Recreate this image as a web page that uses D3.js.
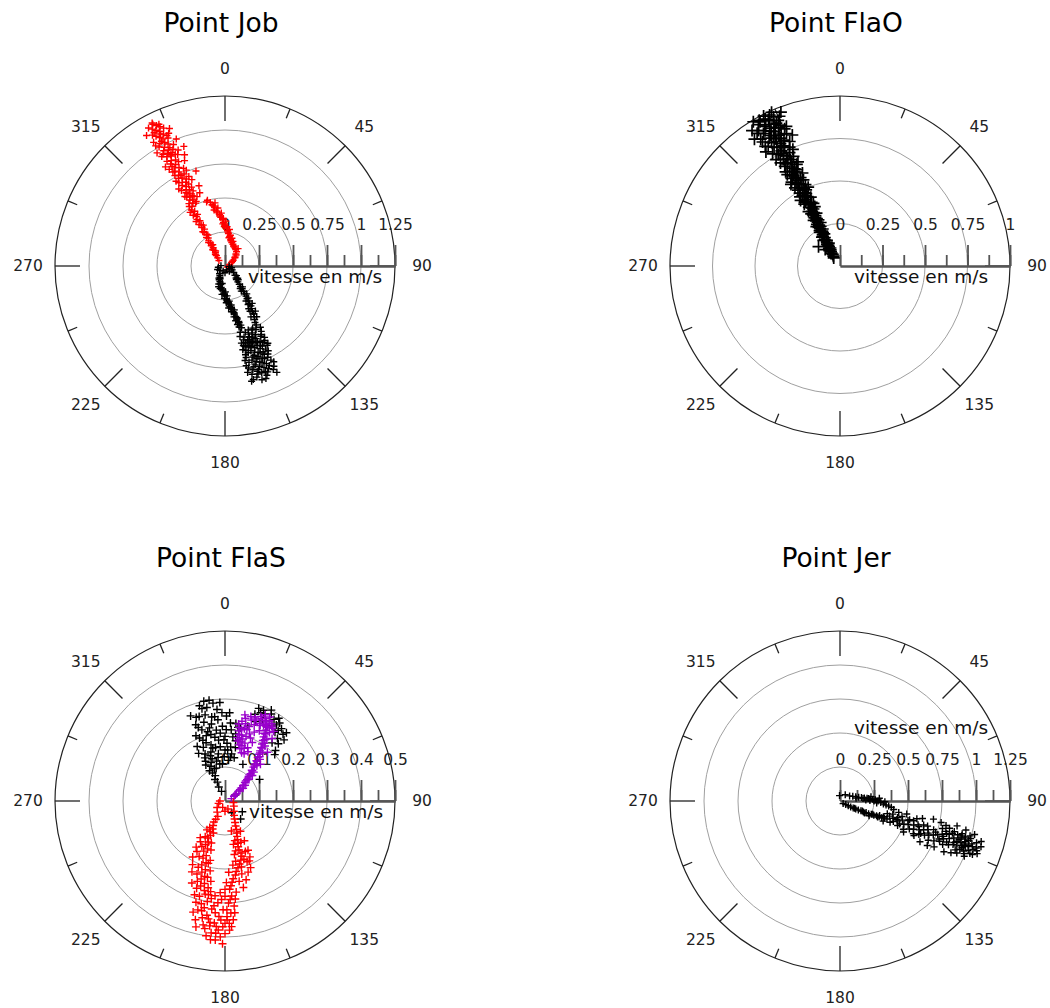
<!DOCTYPE html>
<html>
<head>
<meta charset="utf-8">
<script src="https://cdn.jsdelivr.net/npm/d3@7"></script>
<style>
  html, body { margin: 0; padding: 0; background: #fff; }
  svg { display: block; }
</style>
</head>
<body>
<svg id="chart" width="1050" height="1008"></svg>
<script>
// ---------------- DATA : [direction (deg, 0 = north, clockwise), speed (m/s)] ----------------
const titles = ["Point Job", "Point FlaO", "Point FlaS", "Point Jer"];
const angleTickLabels = [0, 45, 90, 135, 180, 225, 270, 315];
const speedLabelsJob  = [0, 0.25, 0.5, 0.75, 1, 1.25];
const speedLabelsFlaO = [0, 0.25, 0.5, 0.75, 1];
const speedLabelsFlaS = [0, 0.1, 0.2, 0.3, 0.4, 0.5];
const speedLabelsJer  = [0, 0.25, 0.5, 0.75, 1, 1.25];
const axisTitle = "vitesse en m/s";

const jobRed = [
  [333,1.18],[331,1.16],[334,1.15],[332,1.14],[335,1.13],[333,1.12],[336,1.11],[331,1.10],[334,1.10],[332,1.08],
  [335,1.07],[337,1.06],[333,1.06],[330,1.05],[334,1.04],[336,1.03],[332,1.02],[334,1.01],[331,1.00],[335,0.99],
  [333,0.98],[337,0.97],[332,0.96],[334,0.95],[336,0.94],[330,0.93],[333,0.93],[341,0.93],[335,0.92],[332,0.91],
  [334,0.90],[337,0.89],[331,0.88],[333,0.87],[335,0.86],[332,0.85],[336,0.84],[334,0.83],[330,0.82],[333,0.81],
  [335,0.80],[332,0.79],[337,0.78],[334,0.77],[331,0.76],[333,0.75],[336,0.74],[332,0.73],[334,0.72],[338,0.71],
  [331,0.70],[333,0.69],[335,0.68],[332,0.67],[336,0.66],[334,0.65],[330,0.64],[333,0.63],[335,0.62],[332,0.61],
  [337,0.60],[334,0.59],[331,0.58],[333,0.57],[341,0.57],[336,0.56],[332,0.55],[334,0.54],[330,0.53],[333,0.52],
  [335,0.51],[331,0.50],
  [329,1.12],[338,1.09],[330,1.02],[339,1.00],[329,0.97],[338,0.92],[331,0.94],[336,0.90],[329,0.85],[339,0.83],
  [331,0.79],[338,0.76],[330,0.72],[339,0.68],[329,0.66],[337,0.63],[330,0.59],[338,0.55],[329,0.51],[336,0.52],
  [333,1.17],[335,1.15],[332,1.11],[334,1.08],[336,1.05],[333,1.03],[335,0.96],[334,0.91],[332,0.83],[334,0.74],
  [336,0.70],[333,0.60],[335,0.57],[342,0.62],[340,0.87],[343,0.73],
  [329,0.48],[331,0.46],[328,0.44],[330,0.42],[329,0.40],[331,0.38],[328,0.36],[330,0.35],[329,0.33],[331,0.31],
  [328,0.29],[330,0.27],[327,0.25],[329,0.24],[327,0.22],[328,0.20],[326,0.18],[327,0.16],[325,0.14],[324,0.12],
  [321,0.10],[318,0.08],[312,0.06],
  [327,0.47],[332,0.43],[327,0.39],[332,0.34],[327,0.30],[331,0.26],[325,0.21],[330,0.18],[323,0.15],[328,0.13],[320,0.11],
  [345,0.50],[347,0.48],[348,0.46],[350,0.44],[349,0.42],[352,0.40],[354,0.38],[355,0.36],[357,0.34],[358,0.32],
  [0,0.30],[2,0.28],[4,0.26],[6,0.24],[9,0.22],[12,0.20],[16,0.18],[20,0.17],[26,0.155],[33,0.145],
  [39,0.135],[45,0.115],[50,0.095],[55,0.075],[62,0.055],[75,0.035],[110,0.02],
  [351,0.47],[353,0.43],[356,0.39],[358,0.35],[1,0.33],[3,0.29],[7,0.27],[10,0.23],[14,0.21],[18,0.19],[37,0.16],[42,0.12],
  [344,0.49],[349,0.45],[351,0.41],[354,0.37],[357,0.31],[359,0.29],[5,0.25],[8,0.21],[13,0.19],[23,0.16],[30,0.15],[48,0.10],[58,0.065]
];

const jobBlack = [
  [260,0.05],[245,0.06],[230,0.05],[215,0.07],[275,0.03],[200,0.04],[160,0.03],[120,0.04],[105,0.05],[95,0.03],[140,0.05],[180,0.05],
  [208,0.08],[204,0.09],[201,0.10],[198,0.12],[195,0.13],[193,0.14],[190,0.16],[187,0.17],[185,0.18],[183,0.20],
  [181,0.21],[180,0.22],[178,0.24],[177,0.25],[176,0.26],[175,0.27],[174,0.28],[173,0.30],[172,0.31],[171,0.32],
  [170,0.34],[169,0.35],[169,0.36],[168,0.38],[167,0.39],[167,0.40],[166,0.42],[166,0.43],[165,0.45],[165,0.47],
  [171,0.29],[168,0.33],[173,0.26],[176,0.22],[170,0.38],[168,0.44],[197,0.16],[186,0.21],[189,0.13],[179,0.19],
  [203,0.11],[192,0.17],[181,0.24],[178,0.27],[172,0.34],[169,0.41],[207,0.10],[199,0.14],[175,0.31],[167,0.46],
  [118,0.06],[127,0.08],[133,0.10],[137,0.12],[140,0.13],[141,0.15],[142,0.17],[143,0.19],[143,0.21],[144,0.23],
  [145,0.25],[145,0.27],[146,0.29],[146,0.31],[147,0.33],[147,0.35],[148,0.37],[149,0.39],[149,0.41],[150,0.43],
  [151,0.45],[152,0.47],[136,0.14],[146,0.20],[142,0.26],[149,0.30],[144,0.34],[151,0.36],[146,0.40],[153,0.42],
  [130,0.11],[147,0.22],[144,0.29],[149,0.33],[151,0.38],[148,0.44],[134,0.13],[140,0.20],
  [152,0.49],[156,0.50],[160,0.50],[163,0.51],[167,0.50],[154,0.52],[158,0.53],[161,0.53],[165,0.54],[151,0.55],
  [156,0.55],[159,0.56],[163,0.57],[166,0.56],[153,0.58],[157,0.58],[160,0.59],[164,0.59],[155,0.61],[158,0.61],
  [162,0.62],[166,0.61],[153,0.63],[156,0.64],[160,0.64],[163,0.65],[157,0.66],[161,0.67],[165,0.66],[154,0.68],
  [158,0.69],[162,0.69],[156,0.71],[160,0.71],[164,0.72],[158,0.73],[162,0.74],[155,0.74],[166,0.73],[159,0.76],
  [163,0.76],[157,0.78],[161,0.78],[165,0.79],[159,0.80],[163,0.81],[157,0.82],[161,0.83],[166,0.82],[155,0.84],
  [164,0.85],[159,0.86],[167,0.87],[162,0.88],[154,0.82],[168,0.71],[152,0.66],[160,0.60],[158,0.63],[162,0.57],
  [156,0.69],[160,0.75],[166,0.64],[164,0.62],
  [150,0.52],[168,0.53],[152,0.57],[168,0.58],[151,0.60],[167,0.60],[152,0.62],[168,0.63],[151,0.65],[167,0.67],
  [153,0.70],[167,0.69],[154,0.72],[168,0.75],[154,0.77],[167,0.77],[156,0.80],[168,0.80],[153,0.79],[158,0.84],
  [163,0.83],[160,0.88],[166,0.86],[154,0.87],[157,0.51],[161,0.55],[158,0.57],[155,0.65],[159,0.68],[163,0.70],
  [157,0.74],[161,0.72],[164,0.77],[162,0.80],[159,0.83],[161,0.59],[165,0.58],[157,0.61],[163,0.61]
];

const flaOBlack = [
  [322,0.06],[326,0.07],[324,0.09],[328,0.10],[327,0.12],[330,0.13],[329,0.15],[331,0.16],[330,0.18],[332,0.19],
  [331,0.21],[333,0.22],[330,0.24],[332,0.25],[334,0.26],[331,0.28],[333,0.29],[335,0.30],[332,0.32],[334,0.33],
  [331,0.35],[333,0.36],[335,0.37],[332,0.39],[334,0.40],[336,0.41],[331,0.43],[333,0.44],[335,0.45],[332,0.47],
  [334,0.48],[336,0.49],[331,0.51],[333,0.52],[335,0.53],[332,0.55],[334,0.56],[336,0.57],[331,0.59],[333,0.60],
  [335,0.61],[332,0.63],[334,0.64],[337,0.65],[331,0.67],[333,0.68],[335,0.69],[332,0.71],[334,0.72],[336,0.73],
  [331,0.75],[333,0.76],[335,0.77],[332,0.79],[334,0.80],[336,0.81],[331,0.83],[333,0.84],[335,0.85],[332,0.87],
  [334,0.88],[336,0.89],[330,0.90],[333,0.91],[335,0.92],[332,0.94],[334,0.95],[336,0.96],[333,0.97],[335,0.98],
  [329,0.93],[328,0.86],[337,0.70],[330,0.62],[329,0.45],[337,0.38],[328,0.20],[334,0.15],[312,0.17],[318,0.13],
  [328,0.08],[325,0.11],[332,0.12],[326,0.14],[333,0.17],[327,0.18],[334,0.21],[329,0.23],[335,0.24],[329,0.27],
  [336,0.28],[330,0.31],[336,0.34],[330,0.37],[337,0.40],[330,0.42],[337,0.44],[330,0.47],[338,0.50],[330,0.53],
  [337,0.55],[330,0.57],[338,0.59],[330,0.64],[338,0.66],[330,0.70],[338,0.74],[329,0.77],[338,0.79],[329,0.82],
  [338,0.84],[328,0.88],[338,0.87],[331,0.91],[337,0.93],[330,0.96],[333,0.99],[331,0.98],[336,0.92],[333,0.86],
  [335,0.83],[334,0.78],[333,0.73],[335,0.67],[334,0.62],[333,0.58],[335,0.50],[334,0.46],[333,0.41],[334,0.35],
  [332,0.30],[333,0.27],[331,0.24],[332,0.17],[330,0.11],[327,0.95],[339,0.97],[326,0.90],[340,0.82],[327,0.80],
  [331,0.97],[334,0.96],[332,0.93],[335,0.90],[333,0.89],[331,0.86],[336,0.85],[333,0.82],[331,0.80],[335,0.78],
  [332,0.75],[334,0.70],[332,0.68],[335,0.63],[332,0.60],[334,0.58],[333,0.54],[331,0.49],[335,0.47],[332,0.43],
  [334,0.38],[332,0.34],[334,0.31],[331,0.26],[333,0.23],[330,0.20],[331,0.14],[327,0.09],[336,0.99],[329,0.99],
  [338,0.95],[328,0.92],[337,0.90],[339,0.88],[328,0.83],[337,0.76],[329,0.73],[336,0.62],[329,0.56],[337,0.52]
];

const flaSBlack = [
  [340,0.03],[336,0.045],[338,0.06],[335,0.07],[339,0.08],[336,0.09],[342,0.10],[333,0.10],
  [332,0.12],[340,0.12],[348,0.12],[356,0.11],[5,0.12],[12,0.13],[335,0.14],[344,0.15],[352,0.14],[0,0.15],[8,0.14],
  [338,0.17],[346,0.17],[354,0.18],[2,0.17],[10,0.18],[331,0.16],[340,0.19],[348,0.20],[356,0.20],[5,0.21],[336,0.21],
  [342,0.22],[350,0.23],[358,0.22],[8,0.23],[345,0.24],[353,0.25],[1,0.25],[339,0.24],[347,0.26],[355,0.27],
  [3,0.26],[341,0.26],[349,0.28],[357,0.29],[345,0.29],[351,0.30],[338,0.27],[344,0.20],[0,0.19],[6,0.16],
  [350,0.16],[342,0.14],[9,0.20],[12,0.22],
  [334,0.13],[343,0.13],[351,0.13],[359,0.13],[7,0.13],[337,0.15],[347,0.16],[355,0.16],[3,0.15],[11,0.16],
  [333,0.18],[342,0.18],[351,0.19],[359,0.18],[7,0.19],[338,0.20],[346,0.21],[353,0.21],[1,0.21],[10,0.22],
  [340,0.23],[348,0.22],[355,0.24],[4,0.23],[343,0.26],[351,0.25],[358,0.26],[346,0.28],[353,0.29],[348,0.30],
  [338,0.11],[345,0.10],[352,0.11],
  [17,0.23],[21,0.25],[25,0.26],[23,0.29],[27,0.30],[31,0.28],[34,0.27],[38,0.27],[41,0.26],[40,0.24],
  [43,0.23],[45,0.21],[36,0.25],[29,0.27],[19,0.27],[24,0.28],[33,0.29],[47,0.20],[39,0.22],[30,0.24],
  [20,0.29],[28,0.29],[35,0.28],[42,0.27],[37,0.26],[44,0.25],[32,0.26],[22,0.28],
  [58,0.12],[26,0.12],[122,0.06],[139,0.07],[150,0.04],[60,0.035]
];

const flaSPurple = [
  [70,0.02],[62,0.03],[58,0.04],[54,0.05],[51,0.06],[49,0.07],[47,0.08],[46,0.09],[44,0.10],[43,0.11],
  [41,0.12],[40,0.13],[39,0.14],[38,0.15],[37,0.16],[36,0.17],[35,0.18],[34,0.19],[33,0.20],[32,0.21],
  [31,0.22],[30,0.23],[30,0.24],[29,0.25],[28,0.26],[29,0.27],
  [52,0.075],[48,0.095],[45,0.12],[42,0.14],[40,0.16],[38,0.18],[36,0.20],[34,0.22],[33,0.24],[32,0.26],
  [55,0.065],[47,0.11],[44,0.15],[41,0.19],[37,0.23],[35,0.25],
  [26,0.27],[23,0.27],[20,0.26],[17,0.26],[14,0.25],[12,0.24],[11,0.22],[11,0.21],[11,0.19],[12,0.18],
  [14,0.17],[16,0.16],[19,0.15],[22,0.15],[25,0.16],[21,0.24],[24,0.25],[18,0.23],[15,0.22],[14,0.20],
  [16,0.19],[19,0.18],[22,0.20],[26,0.23],[28,0.28],[25,0.28],[13,0.26],[10,0.23],
  [60,0.035],[53,0.055],[50,0.07],[46,0.085],[45,0.095],[43,0.105],[42,0.12],[40,0.135],[39,0.15],[38,0.165],
  [36,0.175],[35,0.19],[34,0.205],[33,0.215],[31,0.23],[30,0.25],[28,0.255],[27,0.265],[24,0.265],[21,0.255],
  [18,0.25],[15,0.235],[13,0.215],[12,0.2],[13,0.185],[15,0.18],[17,0.17],[20,0.165],[23,0.17],[25,0.19],
  [23,0.22],[20,0.21],[18,0.20],[17,0.22],[27,0.25],[25,0.245],[31,0.265],[33,0.255]
];

const flaSRed = [
  [250,0.02],[230,0.03],[270,0.015],[200,0.02],[160,0.025],[120,0.03],[100,0.025],[140,0.04],[215,0.04],[180,0.03],
  [205,0.05],[207,0.06],[208,0.07],[206,0.08],[204,0.09],[206,0.10],[203,0.11],[205,0.12],[202,0.13],[204,0.14],
  [200,0.15],[203,0.16],[199,0.17],[201,0.18],[197,0.19],[200,0.20],[196,0.21],[198,0.22],[195,0.23],[197,0.24],
  [194,0.25],[196,0.26],[193,0.27],[210,0.09],[209,0.12],[207,0.15],[205,0.18],[202,0.21],[199,0.25],[191,0.26],
  [212,0.10],[200,0.10],[214,0.13],[198,0.13],[212,0.16],[196,0.15],[210,0.19],[194,0.18],[207,0.21],[192,0.21],
  [205,0.23],[190,0.24],[202,0.26],[189,0.27],[209,0.17],[211,0.14],[201,0.23],[198,0.27],[193,0.23],[195,0.19],
  [140,0.04],[148,0.05],[152,0.06],[155,0.07],[157,0.08],[158,0.09],[160,0.10],[161,0.11],[162,0.12],[163,0.13],
  [164,0.14],[164,0.15],[163,0.16],[163,0.17],[165,0.18],[167,0.19],[169,0.20],[171,0.21],[172,0.22],[174,0.23],
  [175,0.24],[176,0.25],[177,0.26],[158,0.16],[160,0.19],[166,0.12],[168,0.15],[159,0.13],[167,0.22],[170,0.24],
  [156,0.18],[173,0.27],
  [153,0.10],[168,0.09],[154,0.13],[169,0.13],[155,0.16],[170,0.16],[158,0.19],[173,0.19],[162,0.22],[177,0.21],
  [165,0.24],[179,0.24],[168,0.26],[180,0.26],[162,0.18],[166,0.20],[170,0.18],[159,0.21],
  [176,0.28],[180,0.28],[186,0.28],[192,0.28],[178,0.30],[184,0.30],[190,0.30],[195,0.29],[175,0.31],[181,0.32],
  [187,0.32],[193,0.31],[177,0.33],[183,0.34],[189,0.34],[179,0.35],[185,0.36],[191,0.35],[181,0.37],[187,0.37],
  [178,0.38],[184,0.39],[189,0.38],[182,0.40],[186,0.41],[180,0.36],[194,0.33],[176,0.35],[188,0.29],[183,0.27],
  [177,0.29],[182,0.29],[190,0.28],[196,0.31],[198,0.29],[179,0.32],[186,0.31],[192,0.33],[196,0.34],[175,0.33],
  [182,0.35],[188,0.35],[194,0.36],[178,0.36],[184,0.37],[190,0.37],[180,0.39],[186,0.39],[183,0.38],[188,0.40],
  [184,0.41],[181,0.42],[185,0.33],[187,0.36],[179,0.34],[191,0.32],[174,0.29],[193,0.38],[177,0.37]
];

const jerBlack = [
  [355,0.04],[40,0.06],[62,0.08],[70,0.10],[75,0.12],[79,0.14],[81,0.16],[83,0.18],[84,0.20],[86,0.22],
  [87,0.24],[88,0.26],[90,0.28],[92,0.30],[94,0.32],[95,0.34],[96,0.36],[97,0.38],[85,0.21],[88,0.19],
  [82,0.23],[90,0.25],[93,0.27],[89,0.22],[84,0.17],[80,0.12],[86,0.29],[91,0.33],
  [130,0.03],[122,0.05],[120,0.07],[119,0.09],[118,0.11],[117,0.13],[116,0.15],[115,0.17],[115,0.19],[114,0.21],
  [114,0.23],[113,0.25],[113,0.27],[112,0.29],[112,0.31],[112,0.33],[111,0.35],[111,0.37],[116,0.20],[113,0.30],
  [117,0.24],[110,0.34],[116,0.12],[114,0.18],[112,0.26],[110,0.31],
  [104,0.40],[108,0.41],[111,0.42],[106,0.44],[109,0.45],[113,0.46],[104,0.47],[107,0.48],[110,0.50],[114,0.51],
  [106,0.52],[109,0.53],[112,0.55],[105,0.56],[108,0.57],[111,0.58],[114,0.59],[107,0.60],[110,0.62],[113,0.63],
  [106,0.64],[109,0.65],[112,0.67],[108,0.68],[111,0.70],[114,0.71],[107,0.72],[110,0.73],[113,0.75],[109,0.76],
  [111,0.78],[108,0.79],[106,0.81],[110,0.81],[113,0.82],[104,0.83],[107,0.84],[109,0.85],[112,0.86],[105,0.87],
  [108,0.88],[110,0.89],[106,0.90],[109,0.91],[111,0.92],[107,0.93],[109,0.94],[112,0.95],[106,0.96],[108,0.97],
  [110,0.98],[107,0.99],[109,1.00],[111,1.01],[108,1.02],[110,1.04],[109,1.06],[111,1.08],[114,0.94],[116,0.77],
  [102,0.76],[115,0.60],[103,0.58],[105,0.93],[113,0.99],[107,1.05],
  [101,0.50],[116,0.52],[102,0.62],[117,0.66],[101,0.70],[117,0.72],[103,0.80],[116,0.85],[102,0.88],[115,0.90],
  [103,0.95],[114,1.00],[104,1.02],[112,1.05],[106,1.08],[108,1.09],[110,1.07],[112,1.03],[105,0.99],[107,0.96],
  [110,0.95],[108,0.92],[111,0.89],[106,0.86],[111,0.84],[107,0.82],[109,0.80],[105,0.78],[112,0.79],[108,0.74],
  [110,0.69],[106,0.67],[112,0.64],[108,0.61],[105,0.53],[111,0.47],[108,0.44],[107,0.38],[105,0.36],[99,0.40],
  [101,0.44],[113,0.40],[115,0.35],[109,0.97],[106,0.93],[113,0.92],[111,0.96],[109,1.03],[106,1.00],[112,0.98]
];

// ---------------- LAYOUT ----------------
const R = 170;
const panels = [
  { title: titles[0], cx: 225, cy: 266, labels: speedLabelsJob,  minorStep: 0.125, axisTitleDx: 23, axisTitleAbove: false,
    series: [ {data: jobRed, color: "#ff0000", size: 3.5, width: 1.4}, {data: jobBlack, color: "#000", size: 3.5, width: 1.4} ] },
  { title: titles[1], cx: 840, cy: 266, labels: speedLabelsFlaO, minorStep: 0.125, axisTitleDx: 14, axisTitleAbove: false,
    series: [ {data: flaOBlack, color: "#000", size: 6, width: 1.7} ] },
  { title: titles[2], cx: 225, cy: 801, labels: speedLabelsFlaS, minorStep: 0.05, axisTitleDx: 24, axisTitleAbove: false,
    series: [ {data: flaSBlack, color: "#000", size: 4, width: 1.4}, {data: flaSPurple, color: "#9900cc", size: 4, width: 1.4},
              {data: flaSRed, color: "#ff0000", size: 4, width: 1.4} ] },
  { title: titles[3], cx: 840, cy: 801, labels: speedLabelsJer,  minorStep: 0.125, axisTitleDx: 14, axisTitleAbove: true,
    series: [ {data: jerBlack, color: "#000", size: 3.5, width: 1.4} ] }
];

const svg = d3.select("#chart");
const angle = d3.scaleLinear().domain([0, 360]).range([0, 2 * Math.PI]);
const polar = (rad, deg) => [rad * Math.sin(angle(deg)), -rad * Math.cos(angle(deg))];
const plus = s => `M${-s},0H${s}M0,${-s}V${s}`;
const labelFont = "'DejaVu Sans', Verdana, sans-serif";

panels.forEach(p => {
  const maxV = p.labels[p.labels.length - 1];
  const r = d3.scaleLinear().domain([0, maxV]).range([0, R]);
  const g = svg.append("g").attr("transform", `translate(${p.cx},${p.cy})`);

  // title
  svg.append("text")
    .attr("x", p.cx - 4).attr("y", p.cy - 234)
    .attr("text-anchor", "middle")
    .style("font-family", labelFont).style("font-size", "26.5px").attr("fill", "#000")
    .text(p.title);

  // grey speed circles
  g.selectAll("circle.grid").data(p.labels.slice(1, -1)).join("circle")
    .attr("class", "grid").attr("r", d => r(d))
    .attr("fill", "none").attr("stroke", "#a0a0a0").attr("stroke-width", 1);

  // outer circle
  g.append("circle").attr("r", r(maxV)).attr("fill", "none").attr("stroke", "#222").attr("stroke-width", 1.2);

  // angle ticks
  const angTicks = d3.range(0, 360, 22.5);
  g.selectAll("line.atick").data(angTicks).join("line")
    .attr("class", "atick")
    .attr("x1", d => polar(R, d)[0]).attr("y1", d => polar(R, d)[1])
    .attr("x2", d => polar(R - (d % 45 === 0 ? 25 : 10), d)[0])
    .attr("y2", d => polar(R - (d % 45 === 0 ? 25 : 10), d)[1])
    .attr("stroke", "#222").attr("stroke-width", 1.3);

  // angle labels
  g.selectAll("text.alab").data(angleTickLabels).join("text")
    .attr("class", "alab")
    .attr("x", d => polar(197, d)[0]).attr("y", d => polar(197, d)[1])
    .attr("text-anchor", "middle").attr("dominant-baseline", "central")
    .style("font-family", labelFont).style("font-size", "15.5px").attr("fill", "#222")
    .text(d => d);

  // speed axis
  const minorVals = d3.range(0, maxV + 1e-9, p.minorStep).map(v => +v.toFixed(4));
  const axMinor = d3.axisTop(r).tickValues(minorVals).tickSize(11).tickSizeOuter(0).tickFormat("");
  const axMajor = d3.axisTop(r).tickValues(p.labels).tickSize(21).tickSizeOuter(0).tickPadding(15.5)
    .tickFormat(d => String(d));
  const gm = g.append("g").call(axMinor);
  const gM = g.append("g").call(axMajor);
  [gm, gM].forEach(a => {
    a.select(".domain").attr("stroke", "#555").attr("stroke-width", 2);
    a.selectAll(".tick line").attr("stroke", "#555").attr("stroke-width", 1.8);
  });
  gM.selectAll(".tick text")
    .style("font-family", labelFont).style("font-size", "15.5px").attr("fill", "#222");

  // axis title
  g.append("text")
    .attr("x", p.axisTitleDx).attr("y", p.axisTitleAbove ? -67.5 : 17)
    .style("font-family", labelFont).style("font-size", "18.5px").attr("fill", "#111")
    .text(axisTitle);

  // points
  p.series.forEach(s => {
    g.append("g").selectAll("path").data(s.data).join("path")
      .attr("transform", d => { const [x, y] = polar(r(d[1]), d[0]); return `translate(${x},${y})`; })
      .attr("d", plus(s.size))
      .attr("fill", "none").attr("stroke", s.color).attr("stroke-width", s.width);
  });
});
</script>
</body>
</html>
